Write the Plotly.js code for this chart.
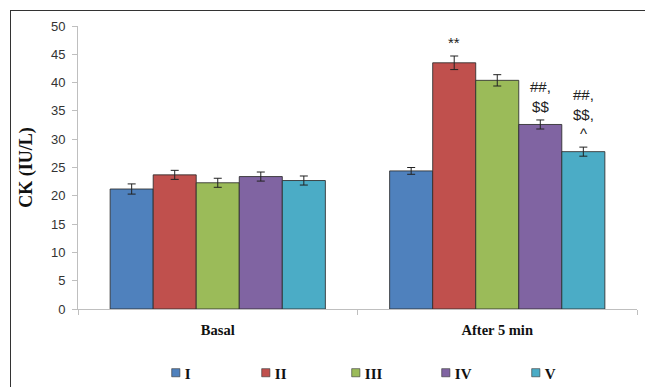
<!DOCTYPE html>
<html>
<head>
<meta charset="utf-8">
<script src="https://cdn.plot.ly/plotly-3.0.1.min.js"></script>
<style>
  html, body { margin: 0; padding: 0; background: #fff; }
  #wrap { position: relative; width: 645px; height: 387px; }
  #chart { width: 645px; height: 387px; }
  #frame {
    position: absolute; left: 10px; top: 10px; right: 0; bottom: 0;
    border-left: 1.5px solid #333; border-top: 1.5px solid #333;
    pointer-events: none;
  }
  /* small square swatches sitting right next to their labels */
  #chart .legendpoints path { transform: translate(31px, 0) scale(0.68); }
</style>
</head>
<body>
<div id="wrap">
  <div id="chart"></div>
  <div id="frame"></div>
</div>
<script>
// Creatine kinase by group, at rest and after 5 minutes
const categories = ["Basal", "After 5 min"];
const groups = ["I", "II", "III", "IV", "V"];
const groupI   = [21.2, 24.4];
const groupII  = [23.7, 43.5];
const groupIII = [22.3, 40.4];
const groupIV  = [23.4, 32.6];
const groupV   = [22.7, 27.8];
const errI   = [0.9, 0.6];
const errII  = [0.8, 1.2];
const errIII = [0.8, 1.0];
const errIV  = [0.8, 0.8];
const errV   = [0.8, 0.8];
// significance marks shown over the "After 5 min" bars
const marks = ["", "**", "", "##,<br>$$", "##,<br>$$,<br>^"];

const values = [groupI, groupII, groupIII, groupIV, groupV];
const errors = [errI, errII, errIII, errIV, errV];
const colors = ["#4F81BD", "#C0504D", "#9BBB59", "#8064A2", "#4BACC6"];

const traces = groups.map((g, i) => ({
  type: "bar",
  name: g,
  x: categories,
  y: values[i],
  marker: { color: colors[i], line: { color: "rgba(45,45,45,0.85)", width: 1 } },
  error_y: { type: "data", array: errors[i], visible: true, color: "#222", thickness: 1, width: 4 },
  hoverinfo: "skip"
}));

// plot-area geometry used to offset the marks over each bar
const plotW = 645 - 78 - 8;
const catW = plotW / categories.length;
const bargap = 0.23;
const barW = catW * (1 - bargap) / groups.length;

const annotations = [];
marks.forEach((m, i) => {
  if (!m) return;
  annotations.push({
    x: categories[1],
    y: values[i][1] + errors[i][1],
    xref: "x", yref: "y",
    text: m,
    showarrow: false,
    xshift: (i - (groups.length - 1) / 2) * barW,
    yanchor: "bottom",
    yshift: 3,
    font: { family: "Liberation Sans, Arial, sans-serif", size: 15, color: "#222" }
  });
});

const layout = {
  width: 645, height: 387,
  margin: { l: 78, r: 8, t: 26, b: 78, autoexpand: false },
  paper_bgcolor: "#fff",
  plot_bgcolor: "#fff",
  barmode: "group",
  bargap: bargap,
  bargroupgap: 0,
  showlegend: true,
  legend: {
    orientation: "h",
    x: 0.522, xanchor: "center",
    y: -0.226, yanchor: "middle",
    entrywidth: 45,
    itemwidth: 30,
    traceorder: "normal",
    font: { family: "Liberation Serif, Times New Roman, serif", size: 15, color: "#111", weight: "bold" }
  },
  xaxis: {
    type: "category",
    showline: true, linecolor: "#BFBFBF", linewidth: 1,
    ticks: "outside", tickson: "boundaries", ticklen: 5, tickcolor: "#BFBFBF",
    showgrid: false, zeroline: false,
    tickfont: { family: "Liberation Serif, Times New Roman, serif", size: 14.5, color: "#111", weight: "bold" },
    ticklabelstandoff: 8
  },
  yaxis: {
    range: [0, 50], dtick: 5,
    showline: true, linecolor: "#BFBFBF", linewidth: 1,
    ticks: "outside", ticklen: 5, tickcolor: "#BFBFBF",
    showgrid: false, zeroline: false,
    tickfont: { family: "Liberation Sans, Arial, sans-serif", size: 13, color: "#333" },
    ticklabelstandoff: 4,
    title: {
      text: "CK (IU/L)",
      font: { family: "Liberation Serif, Times New Roman, serif", size: 18, color: "#111", weight: "bold" }
    }
  },
  annotations: annotations
};

Plotly.newPlot("chart", traces, layout, { displayModeBar: false, staticPlot: true });
</script>
</body>
</html>
